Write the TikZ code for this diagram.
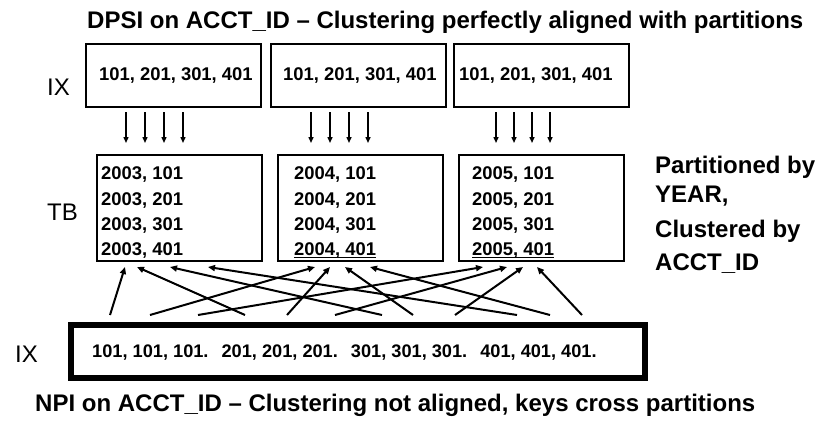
\documentclass[tikz,border=0pt]{standalone}
\usepackage{fontspec}
\setmainfont{Liberation Sans}
\usetikzlibrary{arrows.meta}
\begin{document}
\begin{tikzpicture}[x=1pt,y=-1pt,
  frame/.style={draw=black,line width=2.2pt,inner sep=0pt,outer sep=0pt,anchor=north west},
  heavyframe/.style={draw=black,line width=5.5pt,inner sep=0pt,outer sep=0pt,anchor=north west},
  caption/.style={font=\bfseries\fontsize{24}{28}\selectfont,inner sep=0pt,anchor=base west},
  tag/.style={font=\fontsize{24}{28}\selectfont,inner sep=0pt,anchor=base west},
  keys/.style={font=\bfseries\fontsize{18.4}{22}\selectfont,inner sep=0pt,anchor=base west},
  npikeystyle/.style={font=\bfseries\fontsize{18.2}{22}\selectfont,inner sep=0pt,anchor=base west},
  down/.style={line width=1.4pt,-{Triangle[length=6pt,width=5pt]}},
  up/.style={line width=2pt,-{Triangle[length=7pt,width=6pt]}},
]
\useasboundingbox (0,0) rectangle (818,426);

% headings
\node[caption] (dpsi) at (87,28) {DPSI on ACCT\_ID – Clustering perfectly aligned with partitions};
\node[caption] (npi) at (35,411) {NPI on ACCT\_ID – Clustering not aligned, keys cross partitions};

% side note
\node[caption] (side1) at (655,173) {Partitioned by};
\node[caption] (side2) at (655,202) {YEAR,};
\node[caption] (side3) at (655,237) {Clustered by};
\node[caption] (side4) at (655,270) {ACCT\_ID};

% row labels
\node[tag] (ixtop) at (47,95) {IX};
\node[tag] (tblbl) at (47,220) {TB};
\node[tag] (ixbot) at (15,362) {IX};

% partitioned index pieces
\foreach \xx/\tx [count=\c] in {86/99,271/283,454/459} {
  \node[frame,minimum width=175pt,minimum height=63pt] (ix\c) at (\xx,44) {};
  \node[keys] (ixk\c) at (\tx,80.5) {101, 201, 301, 401};
}

% table partitions
\foreach \xx/\tx/\yr [count=\c] in {97/101/2003,278/294/2004,459/472/2005} {
  \node[frame,minimum width=165pt,minimum height=106pt] (tb\c) at (\xx,155) {};
  \foreach \k/\yy [count=\r] in {101/179.5,201/205.5,301/230.5,401/255.5}
    \node[keys] (row\c\r) at (\tx,\yy) {\yr, \k};
}
\draw[line width=1.3pt] ([yshift=-2pt]row24.base west) -- ([yshift=-2pt]row24.base east);
\draw[line width=1.3pt] ([yshift=-2pt]row34.base west) -- ([yshift=-2pt]row34.base east);

% non-partitioned index
\node[heavyframe,minimum width=574pt,minimum height=53pt] (npibox) at (71,325) {};
\node[npikeystyle] (npikeys) at (92,357) {101, 101, 101.\hspace{13pt}201, 201, 201.\hspace{13pt}301, 301, 301.\hspace{13pt}401, 401, 401.};

% aligned access paths
\foreach \x [count=\i] in {126,145,164,183,311,330,349,368,496,514,532,550} {
  \coordinate (ds\i) at (\x,112);
  \coordinate (de\i) at (\x,143);
  \draw[down] (ds\i) -- (de\i);
}

% crossing access paths
\foreach \a/\b [count=\i] in {110/125,150/315,198/483,245/137,287/330,335/507,382/170,413/345,455/523,517/208,550/370,582/537} {
  \coordinate (us\i) at (\a,315);
  \coordinate (ue\i) at (\b,267);
  \draw[up] (us\i) -- (ue\i);
}
\end{tikzpicture}
\end{document}
